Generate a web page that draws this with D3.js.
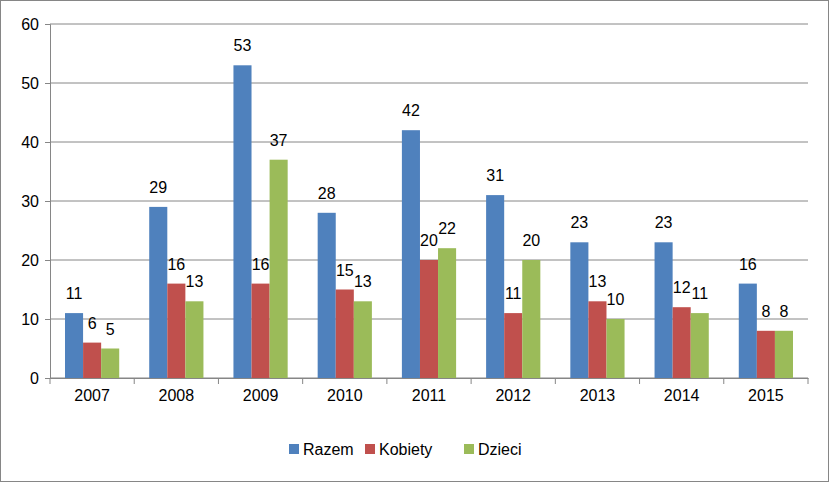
<!DOCTYPE html>
<html><head><meta charset="utf-8">
<script src="https://cdn.jsdelivr.net/npm/d3@7"></script>
<style>body{margin:0;background:#fff}svg{display:block}text{font-family:"Liberation Sans",Arial,sans-serif}</style>
</head><body>
<svg id="chart" width="829" height="482"></svg>
<script>
const years = ["2007","2008","2009","2010","2011","2012","2013","2014","2015"];
const razem = [11,29,53,28,42,31,23,23,16];
const kobiety = [6,16,16,15,20,11,13,12,8];
const dzieci = [5,13,37,13,22,20,10,11,8];
const seriesNames = ["Razem","Kobiety","Dzieci"];
const colors = ["#4F81BD","#C0504D","#9BBB59"];
const yTicks = [0,10,20,30,40,50,60];

const svg = d3.select("#chart");
svg.append("rect").attr("x",0.5).attr("y",0.5).attr("width",828).attr("height",481)
    .attr("fill","#fff").attr("stroke","#868686");

const x = d3.scaleBand().domain(years).range([50,808]);
const xs = d3.scaleBand().domain(seriesNames).range([0,x.bandwidth()]).paddingInner(0).paddingOuter(0.83);
const y = d3.scaleLinear().domain([0,60]).range([378,24]);

// gridlines
svg.append("g").selectAll("line").data(yTicks).enter().append("line")
    .attr("x1",50).attr("x2",808).attr("y1",d=>y(d)).attr("y2",d=>y(d))
    .attr("stroke","#868686").attr("stroke-width",1);

const yAxis = svg.append("g").attr("transform","translate(50,0)")
    .call(d3.axisLeft(y).tickValues(yTicks).tickSize(5).tickPadding(6));
yAxis.select(".domain").attr("stroke","#868686");
yAxis.selectAll("line").attr("stroke","#868686");
yAxis.selectAll("text").attr("font-size",16).attr("fill","#000");

const xAxis = svg.append("g").attr("transform","translate(0,378)")
    .call(d3.axisBottom(x).tickSize(0).tickPadding(12));
xAxis.select(".domain").attr("stroke","#868686");
xAxis.selectAll("text").attr("font-size",16).attr("fill","#000");
svg.append("g").selectAll("line").data(d3.range(10)).enter().append("line")
    .attr("x1",i=>50+i*x.step()).attr("x2",i=>50+i*x.step())
    .attr("y1",378).attr("y2",384).attr("stroke","#868686");

const data = [razem,kobiety,dzieci];
data.forEach((vals,si)=>{
    const g = svg.append("g");
    g.selectAll("rect").data(vals).enter().append("rect")
        .attr("x",(d,i)=>x(years[i])+xs(seriesNames[si]))
        .attr("width",xs.bandwidth())
        .attr("y",d=>y(d)).attr("height",d=>y(0)-y(d))
        .attr("fill",colors[si]);
    g.selectAll("text").data(vals).enter().append("text")
        .attr("x",(d,i)=>x(years[i])+xs(seriesNames[si])+xs.bandwidth()/2)
        .attr("y",d=>y(d)-14).attr("text-anchor","middle")
        .attr("font-size",16).attr("fill","#000").text(d=>d);
});

// legend
const legX = [289,365,464];
const leg = svg.append("g");
seriesNames.forEach((n,i)=>{
    leg.append("rect").attr("x",legX[i]).attr("y",444).attr("width",10).attr("height",10).attr("fill",colors[i]);
    leg.append("text").attr("x",legX[i]+14).attr("y",455).attr("font-size",16).text(n);
});
</script>
</body></html>
